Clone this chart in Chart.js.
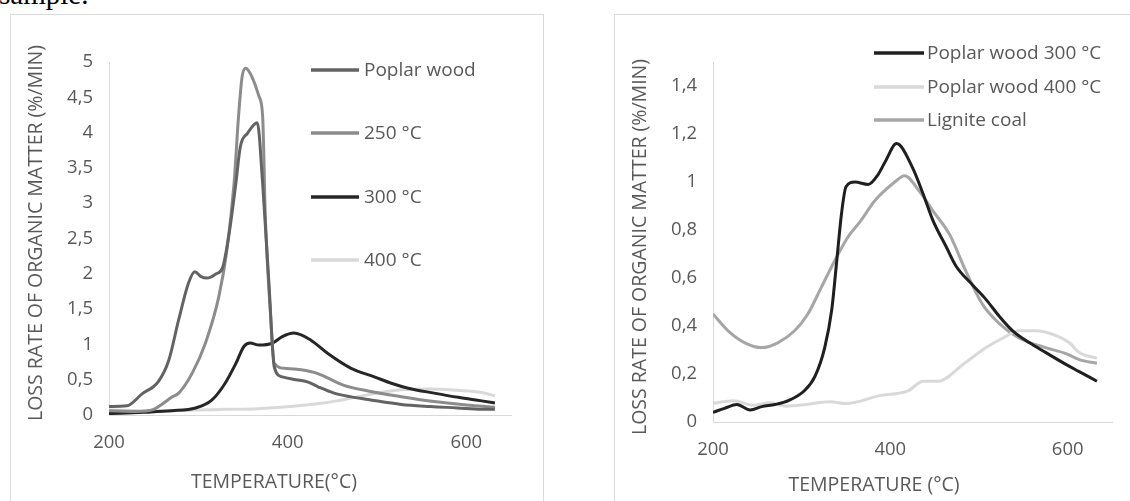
<!DOCTYPE html>
<html>
<head>
<meta charset="utf-8">
<script src="https://cdn.jsdelivr.net/npm/chart.js@4/dist/chart.umd.min.js"></script>
<style>
  html, body { margin: 0; padding: 0; background: #fff; overflow: hidden; }
  body { width: 1130px; height: 501px; position: relative; }
  .frame { position: absolute; border: 1px solid #d9d9d9; box-sizing: border-box; }
  canvas { position: absolute; }
  #caption { position: absolute; left: -1px; top: -22px; font: 29px "Liberation Serif", serif; color: #000; }
</style>
</head>
<body>
<div id="caption">sample.</div>
<div class="frame" style="left:10px;top:14px;width:534px;height:520px"></div>
<div class="frame" style="left:614px;top:14px;width:560px;height:520px"></div>
<canvas id="leftChart" width="533" height="487" style="left:10px;top:14px"></canvas>
<canvas id="rightChart" width="530" height="486" style="left:615px;top:15px"></canvas>
<script>
// left chart: loss rate of poplar wood and torrefied samples
const poplarT = [200, 220, 237, 255, 267, 278, 289, 296, 303, 310, 320, 327, 334, 342, 347, 355, 366, 372, 379, 385, 394, 409, 422, 434, 452, 470, 490, 527, 560, 590, 617, 632];
const poplarV = [0.12, 0.13, 0.3, 0.47, 0.78, 1.35, 1.87, 2.03, 1.96, 1.94, 2.0, 2.08, 2.53, 3.28, 3.8, 3.99, 4.14, 3.28, 1.87, 0.68, 0.54, 0.5, 0.47, 0.4, 0.31, 0.26, 0.22, 0.15, 0.12, 0.1, 0.08, 0.08];

const t250T = [200, 230, 250, 259, 270, 278, 293, 308, 323, 332, 340, 345, 349, 353, 360, 368, 372, 375, 381, 385, 398, 415, 433, 463, 490, 527, 564, 600, 632];
const t250V = [0.06, 0.05, 0.08, 0.15, 0.25, 0.31, 0.59, 1.02, 1.68, 2.34, 3.28, 4.23, 4.79, 4.91, 4.79, 4.51, 4.23, 2.81, 1.39, 0.73, 0.66, 0.64, 0.59, 0.42, 0.34, 0.26, 0.19, 0.14, 0.11];

const t300T = [200, 240, 270, 297, 315, 330, 342, 351, 358, 368, 383, 394, 407, 426, 445, 471, 497, 516, 535, 564, 591, 617, 632];
const t300V = [0.02, 0.04, 0.06, 0.1, 0.21, 0.45, 0.73, 0.97, 1.02, 0.99, 1.02, 1.11, 1.16, 1.06, 0.87, 0.66, 0.54, 0.45, 0.38, 0.31, 0.25, 0.2, 0.17];

const t400T = [200, 250, 300, 330, 366, 403, 433, 455, 475, 500, 530, 560, 590, 617, 632];
const t400V = [0.07, 0.06, 0.07, 0.08, 0.09, 0.12, 0.16, 0.2, 0.25, 0.31, 0.36, 0.37, 0.35, 0.32, 0.27];

// right chart: torrefied poplar vs lignite coal
const p300T = [200, 213, 227, 242, 255, 270, 285, 303, 315, 326, 334, 339, 345, 350, 360, 375, 386, 395, 407, 425, 437, 448, 463, 474, 493, 508, 523, 538, 557, 575, 598, 613, 633];
const p300V = [0.04, 0.057, 0.073, 0.05, 0.064, 0.073, 0.089, 0.13, 0.19, 0.31, 0.47, 0.65, 0.87, 0.98, 1.0, 0.99, 1.03, 1.09, 1.16, 1.06, 0.95, 0.84, 0.73, 0.65, 0.57, 0.51, 0.44, 0.38, 0.33, 0.29, 0.24, 0.21, 0.17];

const p400T = [200, 223, 245, 264, 283, 305, 332, 350, 388, 420, 437, 454, 482, 508, 527, 545, 564, 587, 602, 613, 633];
const p400V = [0.078, 0.089, 0.07, 0.08, 0.066, 0.073, 0.084, 0.077, 0.11, 0.13, 0.17, 0.17, 0.24, 0.31, 0.35, 0.38, 0.38, 0.36, 0.33, 0.29, 0.265];

const ligniteT = [200, 217, 236, 255, 273, 292, 307, 322, 337, 352, 367, 382, 405, 416, 433, 448, 467, 485, 504, 523, 545, 575, 598, 613, 633];
const ligniteV = [0.45, 0.38, 0.33, 0.31, 0.33, 0.38, 0.45, 0.56, 0.67, 0.77, 0.84, 0.92, 1.0, 1.026, 0.96, 0.88, 0.78, 0.63, 0.49, 0.41, 0.35, 0.31, 0.285, 0.26, 0.245];

const leftLabels = ["Poplar wood", "250 °C", "300 °C", "400 °C"];
const rightLabels = ["Poplar wood 300 °C", "Poplar wood 400 °C", "Lignite coal"];

const xTicks = [200, 400, 600];
const leftYTicks = [0, 0.5, 1, 1.5, 2, 2.5, 3, 3.5, 4, 4.5, 5];
const rightYTicks = [0, 0.2, 0.4, 0.6, 0.8, 1, 1.2, 1.4];

const yTitle = "LOSS RATE OF ORGANIC MATTER (%/MIN)";
const textColor = "#595959";
const fontFamily = "'Open Sans', sans-serif";

function pts(xs, ys) {
  return xs.map((x, i) => ({ x: x, y: ys[i] }));
}

function series(label, xs, ys, color) {
  return {
    label: label,
    data: pts(xs, ys),
    borderColor: color,
    backgroundColor: color,
    borderWidth: 3,
    pointRadius: 0,
    showLine: true,
    cubicInterpolationMode: "monotone",
    fill: false
  };
}

// legend inside the plot area + axis titles placed like the Excel original
const excelBits = {
  id: "excelBits",
  afterDraw(chart, args, opts) {
    const ctx = chart.ctx;
    ctx.save();
    ctx.textBaseline = "middle";
    ctx.font = "19px " + fontFamily;
    ctx.textAlign = "left";
    chart.data.datasets.forEach((ds, i) => {
      const y = opts.rows[i];
      ctx.strokeStyle = ds.borderColor;
      ctx.lineWidth = 3.5;
      ctx.beginPath();
      ctx.moveTo(opts.x1, y);
      ctx.lineTo(opts.x2, y);
      ctx.stroke();
      ctx.fillStyle = textColor;
      ctx.fillText(ds.label, opts.tx, y + 1);
    });

    ctx.font = "19.5px " + fontFamily;
    ctx.fillStyle = textColor;
    ctx.textAlign = "center";
    ctx.fillText(opts.xTitle, opts.xTitlePos[0], opts.xTitlePos[1]);
    ctx.translate(opts.yTitlePos[0], opts.yTitlePos[1]);
    ctx.rotate(-Math.PI / 2);
    ctx.fillText(yTitle, 0, 0);
    ctx.restore();
  }
};

function makeChart(id, datasets, cfg) {
  return new Chart(document.getElementById(id), {
    type: "scatter",
    data: { datasets: datasets },
    plugins: [excelBits],
    options: {
      responsive: false,
      animation: false,
      layout: { padding: cfg.padding },
      plugins: {
        legend: { display: false },
        tooltip: { enabled: false },
        excelBits: cfg.extras
      },
      scales: {
        x: {
          type: "linear",
          min: 200,
          max: 650,
          grid: { display: false, drawTicks: false },
          border: { display: true, color: "#d9d9d9", width: 1 },
          afterBuildTicks: s => { s.ticks = xTicks.map(v => ({ value: v })); },
          afterFit: s => { s.height = cfg.xHeight; },
          ticks: {
            color: textColor,
            padding: 17,
            font: { family: fontFamily, size: 18.5 },
            callback: v => String(v)
          }
        },
        y: {
          type: "linear",
          min: 0,
          max: cfg.yMax,
          grid: { display: false, drawTicks: false },
          border: { display: true, color: "#d9d9d9", width: 1 },
          afterBuildTicks: s => { s.ticks = cfg.yTicks.map(v => ({ value: v })); },
          afterFit: s => { s.width = cfg.yWidth; },
          ticks: {
            color: textColor,
            padding: 16,
            font: { family: fontFamily, size: 18.5 },
            callback: v => String(v).replace(".", ",")
          }
        }
      }
    }
  });
}

makeChart("leftChart", [
  series(leftLabels[0], poplarT, poplarV, "#636363"),
  series(leftLabels[1], t250T, t250V, "#8c8c8c"),
  series(leftLabels[2], t300T, t300V, "#262626"),
  series(leftLabels[3], t400T, t400V, "#d9d9d9")
], {
  padding: { left: 0, right: 32, top: 48, bottom: 0 },
  xHeight: 86, yWidth: 99,
  yMax: 5, yTicks: leftYTicks,
  extras: {
    x1: 301, x2: 349, tx: 354, rows: [56, 119, 183, 246],
    xTitle: "TEMPERATURE(°C)", xTitlePos: [264, 468], yTitlePos: [26, 219]
  }
});

makeChart("rightChart", [
  series(rightLabels[0], p300T, p300V, "#1f1f1f"),
  series(rightLabels[1], p400T, p400V, "#d9d9d9"),
  series(rightLabels[2], ligniteT, ligniteV, "#a6a6a6")
], {
  padding: { left: 0, right: 33, top: 47, bottom: 0 },
  xHeight: 79, yWidth: 98,
  yMax: 1.5, yTicks: rightYTicks,
  extras: {
    x1: 259, x2: 309, tx: 312, rows: [38, 72, 105],
    xTitle: "TEMPERATURE (°C)", xTitlePos: [259, 470], yTitlePos: [25, 232]
  }
});
</script>
</body>
</html>
